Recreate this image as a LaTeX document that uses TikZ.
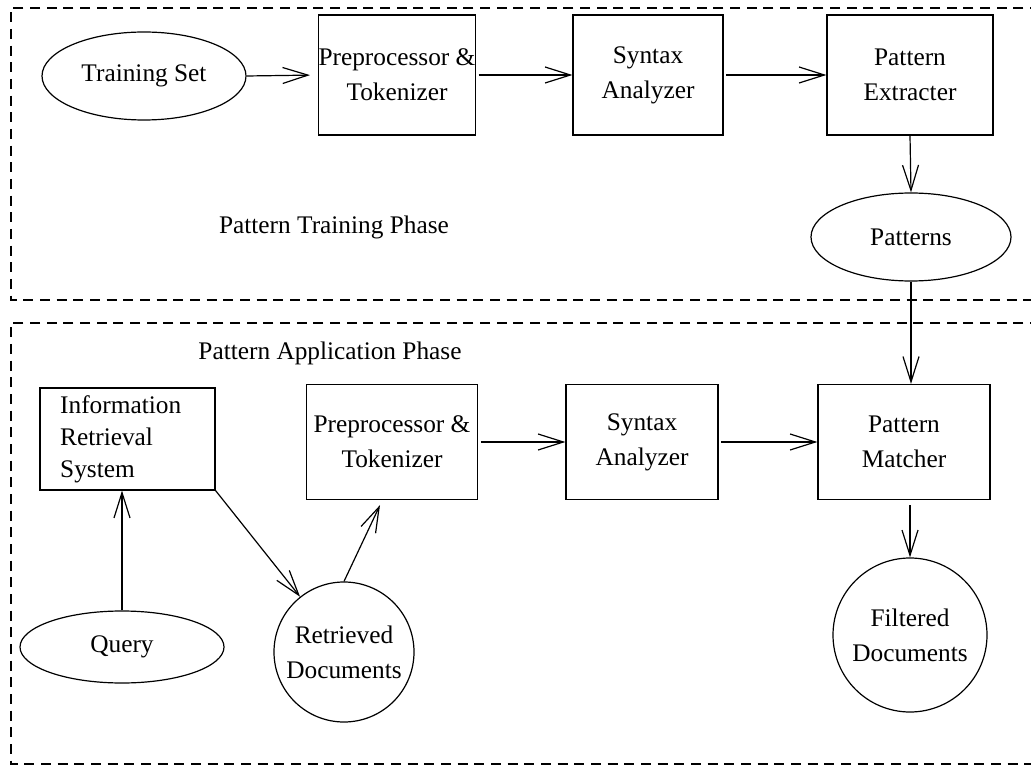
\documentclass[tikz,border=0pt]{standalone}
\usepackage{fontspec}
\setmainfont{Liberation Serif}
\usetikzlibrary{arrows.meta,shapes.geometric}
\begin{document}
\begin{tikzpicture}[x=0.75pt,y=-0.75pt,
  every node/.style={font=\fontsize{19}{26.25}\selectfont},
  box/.style={draw,line width=0.9pt,rectangle,inner sep=0pt,align=center,minimum height=#1},
  box/.default=90pt,
  oval/.style={draw,line width=0.9pt,ellipse,inner sep=0pt,align=center},
  disc/.style={draw,line width=0.9pt,circle,inner sep=0pt,align=center},
  conn/.style={line width=0.9pt,-{Straight Barb[length=19pt,width=12pt,line width=0.9pt]}},
  frame/.style={line width=0.8pt,dash pattern=on 7.5pt off 5pt},
  label/.style={inner sep=0pt}]
\useasboundingbox (0,0) rectangle (1031,766);
\clip (0,0) rectangle (1031,766);
% phase frames (open on the right)
\draw[frame] (1040,8) -- (11,8) -- (11,300) -- (1040,300);
\draw[frame] (1040,323) -- (11,323) -- (11,764) -- (1040,764);
% training phase
\node[oval,minimum width=153pt,minimum height=66pt] (train) at (144,76) {Training Set};
\node[box,minimum width=113.25pt] (prepA) at (397,75) {Preprocessor \&\\Tokenizer};
\node[box,minimum width=112.5pt] (synA) at (648,75) {Syntax\\Analyzer};
\node[box,minimum width=124.5pt] (extA) at (910,75) {Pattern\\Extracter};
\node[oval,minimum width=150pt,minimum height=66pt] (patt) at (911,237) {Patterns};
\node[label] (tlab) at (334,227) {Pattern Training Phase};
% application phase
\node[label] (alab) at (330,353) {Pattern Application Phase};
\node[box=76.5pt,minimum width=131.25pt,text width=101pt,align=left,font=\fontsize{19}{24}\selectfont] (info) at (127.5,439) {Information\\Retrieval\\System};
\node[box=86.25pt,minimum width=128.25pt] (prepB) at (392,442) {Preprocessor \&\\Tokenizer};
\node[box=86.25pt,minimum width=114pt] (synB) at (642,442) {Syntax\\Analyzer};
\node[box=86.25pt,minimum width=129pt] (match) at (904,442) {Pattern\\Matcher};
\node[oval,minimum width=153pt,minimum height=54pt] (query) at (122,647) {Query};
\node[disc,minimum size=105pt] (retr) at (344,652) {Retrieved\\Documents};
\node[disc,minimum size=115.5pt] (filt) at (910,635) {Filtered\\Documents};
% connectors
\draw[conn,shorten >=6pt] (train.east) -- (prepA.west);
\draw[conn,shorten <=2pt] (prepA.east) -- (synA.west);
\draw[conn,shorten <=2pt] (synA.east) -- (extA.west);
\draw[conn] (extA.south) -- (patt.north);
\draw[conn] (patt.south) -- (patt.south |- match.north);
\draw[conn] (query.north) -- (query.north |- info.south);
\draw[conn] (info.south east) -- (retr);
\draw[conn] (retr.north) -- ([shift={(-9pt,-3.75pt)}]prepB.south);
\draw[conn,shorten <=2pt] (prepB.east) -- (synB.west);
\draw[conn,shorten <=2pt] (synB.east) -- (match.west);
\draw[conn,shorten <=4pt] (match.south -| filt.north) -- (filt.north);
\end{tikzpicture}
\end{document}
